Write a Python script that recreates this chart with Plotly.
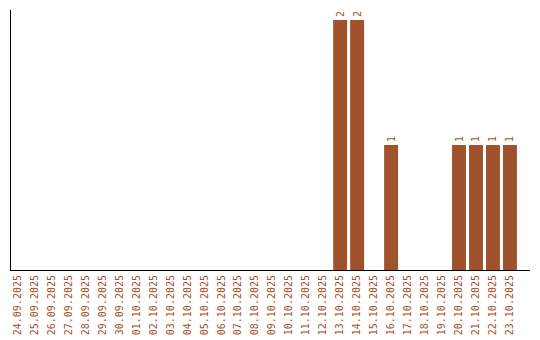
import plotly.graph_objects as go

dates = ["24.09.2025","25.09.2025","26.09.2025","27.09.2025","28.09.2025","29.09.2025",
         "30.09.2025","01.10.2025","02.10.2025","03.10.2025","04.10.2025","05.10.2025",
         "06.10.2025","07.10.2025","08.10.2025","09.10.2025","10.10.2025","11.10.2025",
         "12.10.2025","13.10.2025","14.10.2025","15.10.2025","16.10.2025","17.10.2025",
         "18.10.2025","19.10.2025","20.10.2025","21.10.2025","22.10.2025","23.10.2025"]
counts = [0,0,0,0,0,0,0,0,0,0,0,0,0,0,0,0,0,0,0,2,2,0,1,0,0,0,1,1,1,1]

color = "#A0522D"
labels = [str(v) if v else "" for v in counts]

fig = go.Figure(go.Bar(
    x=list(range(len(dates))), y=counts,
    marker=dict(color=color, line=dict(width=0)),
    width=0.82,
    text=labels, textposition="outside", textangle=-90,
    textfont=dict(family="DejaVu Sans Mono", size=10, color=color),
    cliponaxis=False,
))
fig.update_layout(
    width=540, height=340,
    margin=dict(l=10.5, r=10, t=10, b=70),
    paper_bgcolor="white", plot_bgcolor="white",
    showlegend=False, bargap=0.18,
)
fig.update_xaxes(
    tickmode="array", tickvals=list(range(len(dates))), ticktext=dates,
    tickangle=-90, range=[-0.38, 30.18], automargin=False,
    tickfont=dict(family="DejaVu Sans Mono", size=10, color=color),
    showline=True, linecolor="black", linewidth=1, showgrid=False, ticks="",
    zeroline=False,
)
fig.update_yaxes(
    range=[0, 2.08], showticklabels=False, showgrid=False, zeroline=False,
    showline=True, linecolor="black", linewidth=1, ticks="", automargin=False,
)
fig.write_html("out.html")
